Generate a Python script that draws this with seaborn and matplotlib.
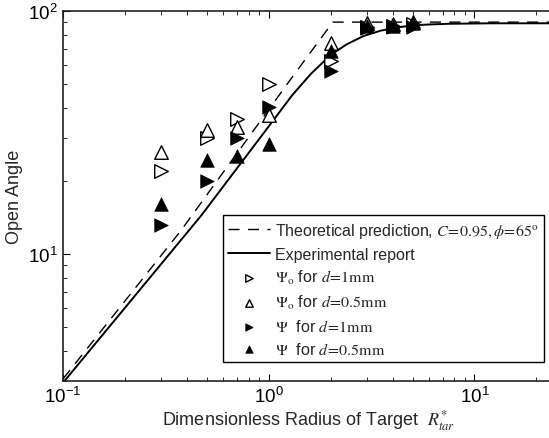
import numpy as np
import pandas as pd
import matplotlib
matplotlib.use("Agg")
import matplotlib.pyplot as plt
from matplotlib.ticker import LogLocator, NullFormatter
import seaborn as sns

# ---- data ----
x_marks = [0.3, 0.5, 0.7, 1.0, 2.0, 3.0, 4.0, 5.0]
psi_o_d1 = [22.0, 29.9, 36.1, 50.1, 62.1, 86, 87, 88]     # open right triangles
psi_o_d05 = [26.4, 32.4, 33.2, 37.3, 73.6, 89, 88, 90]    # open up triangles
psi_d1 = [13.2, 19.9, 29.9, 40.2, 56.8, 85, 86, 86]       # filled right triangles
psi_d05 = [16.1, 24.4, 25.2, 28.4, 68.7, 87, 87, 89]      # filled up triangles

theory_x = [0.1, 0.375, 1.25, 2.05, 25.0]
theory_y = [3.06, 12.5, 51.0, 90.0, 90.0]

exp_x = [0.1, 0.47, 1.0, 1.3, 1.6, 2.0, 2.4, 2.9, 3.5, 4.2, 5.0, 6.0, 7.5, 12.0, 25.0]
exp_y = [2.95, 14.4, 33.5, 45.0, 55.0, 66.0, 73.0, 79.0, 83.0, 85.5, 87.3, 88.0, 88.6, 89.0, 89.0]

sns.set_style("ticks")
plt.rcParams['font.family'] = ['Liberation Sans', 'DejaVu Sans']
plt.rcParams['mathtext.fontset'] = 'stix'

fig = plt.figure(figsize=(5.49, 4.39), dpi=100)
ax = fig.add_axes([63/549, 1 - 382/439, 1 - 63/549 + 0.01, (382 - 12)/439])

th = pd.DataFrame({"x": theory_x, "y": theory_y})
ex = pd.DataFrame({"x": exp_x, "y": exp_y})
sns.lineplot(data=th, x="x", y="y", ax=ax, color="black", lw=1.0,
             linestyle=(0, (8, 6)), sort=False, estimator=None,
             label=r"Theoretical prediction, $C\!=\!0.95,\phi\!=\!65^{\rm o}$", zorder=2)
sns.lineplot(data=ex, x="x", y="y", ax=ax, color="black", lw=1.4,
             sort=False, estimator=None, label="Experimental report", zorder=2)

ms = 95
df = pd.DataFrame({"x": x_marks, "a": psi_o_d1, "b": psi_o_d05, "c": psi_d1, "d": psi_d05})
sns.scatterplot(data=df, x="x", y="a", ax=ax, marker=">", s=ms, color="white",
                edgecolor="black", linewidth=1.0, zorder=3,
                label=r"$\Psi_{\rm o}$ for $d\!=\!1{\rm mm}$")
sns.scatterplot(data=df, x="x", y="b", ax=ax, marker="^", s=ms, color="white",
                edgecolor="black", linewidth=1.0, zorder=3,
                label=r"$\Psi_{\rm o}$ for $d\!=\!0.5{\rm mm}$")
sns.scatterplot(data=df, x="x", y="c", ax=ax, marker=">", s=ms, color="black",
                edgecolor="black", linewidth=0.5, zorder=4,
                label=r"$\Psi$  for $d\!=\!1{\rm mm}$")
sns.scatterplot(data=df, x="x", y="d", ax=ax, marker="^", s=ms, color="black",
                edgecolor="black", linewidth=0.5, zorder=4,
                label=r"$\Psi$  for $d\!=\!0.5{\rm mm}$")

ax.set_xscale("log")
ax.set_yscale("log")
ax.set_xlim(0.1, 24.5)
ax.set_ylim(3, 100)
ax.xaxis.set_major_locator(LogLocator(base=10, numticks=10))
ax.xaxis.set_minor_locator(LogLocator(base=10, subs=np.arange(2, 10), numticks=20))
ax.yaxis.set_major_locator(LogLocator(base=10, numticks=10))
ax.yaxis.set_minor_locator(LogLocator(base=10, subs=np.arange(2, 10), numticks=20))
ax.xaxis.set_minor_formatter(NullFormatter())
ax.yaxis.set_minor_formatter(NullFormatter())

ax.tick_params(which="both", direction="in", top=True, right=False, colors="black",
               labelsize=13.5)
ax.tick_params(which="major", length=5, width=0.8)
ax.tick_params(which="minor", length=3, width=0.6)
ax.spines["right"].set_visible(False)
for s in ["left", "bottom", "top"]:
    ax.spines[s].set_linewidth(1.2)
    ax.spines[s].set_color("#222222")

ax.set_xlabel(r"Dimensionless Radius of Target  $R^{*}_{tar}$", fontsize=13, labelpad=1)
ax.set_ylabel("Open Angle", fontsize=13, labelpad=4)

leg = ax.legend(loc="lower right", bbox_to_anchor=(0.979, 0.051), fontsize=11.5,
                frameon=True, fancybox=False, edgecolor="black", framealpha=1,
                handlelength=2.6, handletextpad=0.3, borderpad=0.35,
                labelspacing=0.42, markerscale=0.55, borderaxespad=0)
leg.get_frame().set_linewidth(1.0)

fig.savefig("out.png", dpi=100)
